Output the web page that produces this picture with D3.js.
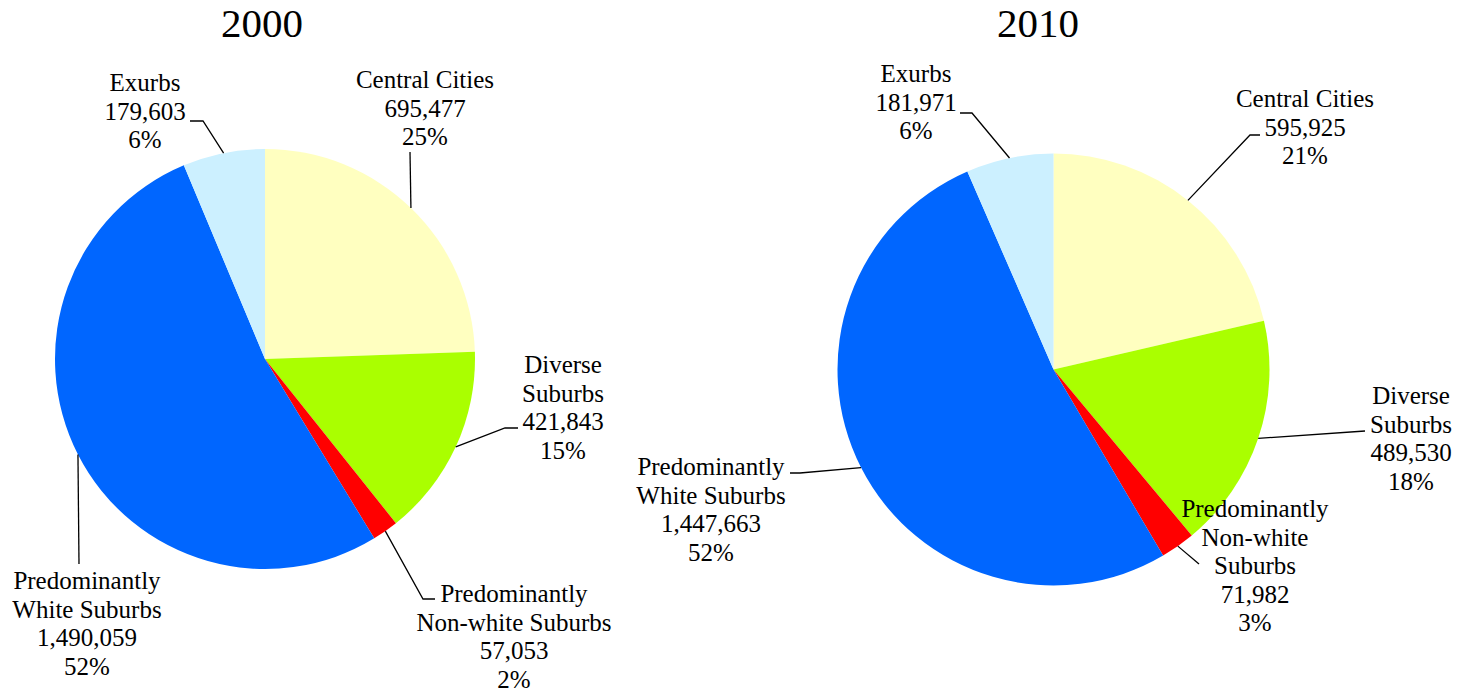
<!DOCTYPE html>
<html>
<head>
<meta charset="utf-8">
<script src="https://cdn.jsdelivr.net/npm/d3@7"></script>
<style>
  html, body { margin: 0; padding: 0; background: #fff; }
  svg { display: block; }
  svg text { font-family: "Times New Roman", "Liberation Serif", "DejaVu Serif", serif; }
</style>
</head>
<body>
<div id="chart"></div>
<script>
// data
var categories = ["Central Cities", "Diverse Suburbs", "Predominantly Non-white Suburbs", "Predominantly White Suburbs", "Exurbs"];
var years = ["2000", "2010"];
var values2000 = [695477, 421843, 57053, 1490059, 179603];
var values2010 = [595925, 489530, 71982, 1447663, 181971];
var pct2000 = ["25%", "15%", "2%", "52%", "6%"];
var pct2010 = ["21%", "18%", "3%", "52%", "6%"];
var names2000 = [["Central Cities"], ["Diverse", "Suburbs"], ["Predominantly", "Non-white Suburbs"], ["Predominantly", "White Suburbs"], ["Exurbs"]];
var names2010 = [["Central Cities"], ["Diverse", "Suburbs"], ["Predominantly", "Non-white", "Suburbs"], ["Predominantly", "White Suburbs"], ["Exurbs"]];
var colors = ["#FFFFC0", "#AAFF00", "#FF0000", "#0066FF", "#CCF0FF"];

var W = 1473, H = 692;
var fmt = d3.format(",");

// layout: pie centre/radius, label position (centre x, first baseline) and leader knots
var charts = [
  { year: years[0], values: values2000, pct: pct2000, names: names2000,
    cx: 265, cy: 359, r: 210, titleX: 262,
    labels: [
      { x: 425, y: 88, pts: [[410, 152]] },
      { x: 563, y: 373, pts: [[505, 428], [518, 428]] },
      { x: 514, y: 602, pts: [[423, 599], [435, 599]] },
      { x: 87, y: 589, pts: [[79, 564]] },
      { x: 145, y: 91, pts: [[203, 121], [190, 121]] }
    ] },
  { year: years[1], values: values2010, pct: pct2010, names: names2010,
    cx: 1053.5, cy: 369.5, r: 216, titleX: 1038,
    labels: [
      { x: 1305, y: 107, pts: [[1250, 135], [1260, 135]] },
      { x: 1411, y: 404, pts: [[1365, 431]] },
      { x: 1255, y: 517, pts: [[1199, 564]] },
      { x: 711, y: 475, pts: [[800, 473], [790, 473]] },
      { x: 916, y: 82, pts: [[972, 113], [960, 113]] }
    ] }
];

var svg = d3.select("#chart").append("svg")
  .attr("width", W)
  .attr("height", H);

var pie = d3.pie().sort(null).value(function(d) { return d; });
var lineH = 28.5;

charts.forEach(function(c) {
  var g = svg.append("g").attr("transform", "translate(" + c.cx + "," + c.cy + ")");
  var arc = d3.arc().innerRadius(0).outerRadius(c.r);
  var edge = d3.arc().innerRadius(c.r).outerRadius(c.r);
  var arcs = pie(c.values);

  g.selectAll("path.slice")
    .data(arcs)
    .enter().append("path")
    .attr("class", "slice")
    .attr("d", arc)
    .attr("fill", function(d, i) { return colors[i]; });

  svg.append("text")
    .attr("x", c.titleX)
    .attr("y", 37)
    .attr("text-anchor", "middle")
    .style("font-size", "41px")
    .text(c.year);

  arcs.forEach(function(d, i) {
    var lab = c.labels[i];
    var p = edge.centroid(d);
    var pts = [[c.cx + p[0], c.cy + p[1]]].concat(lab.pts);
    svg.append("path")
      .attr("d", d3.line()(pts))
      .attr("fill", "none")
      .attr("stroke", "#000")
      .attr("stroke-width", 1.3);

    // one text element per line of the label
    var lines = c.names[i].concat([fmt(c.values[i]), c.pct[i]]);
    lines.forEach(function(s, k) {
      svg.append("text")
        .attr("x", lab.x)
        .attr("y", lab.y + k * lineH)
        .attr("text-anchor", "middle")
        .style("font-size", "25px")
        .text(s);
    });
  });
});
</script>
</body>
</html>
